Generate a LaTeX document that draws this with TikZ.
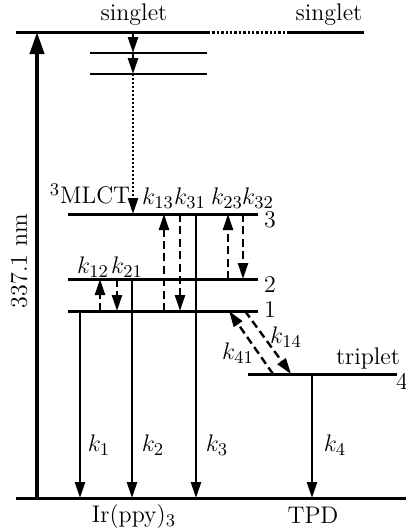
\documentclass[tikz,border=0pt]{standalone}
\usetikzlibrary{arrows.meta}
\DeclareMathSizes{12}{12}{9}{7}
\begin{document}
\begin{tikzpicture}[x=0.5pt,y=-0.5pt,
  lvl/.style={line width=1.5pt},
  sub/.style={line width=0.8pt},
  tip/.style={-{Triangle[width=5pt,length=8pt]}},
  solidarr/.style={tip,line width=1.3pt},
  dasharr/.style={tip,line width=1.2pt,dash pattern=on 4pt off 2.2pt},
  dotarr/.style={tip,line width=1.3pt,dash pattern=on 1pt off 1pt},
  lab/.style={inner sep=0pt,font=\fontsize{12}{14}\selectfont}]
\useasboundingbox (0,0) rectangle (406,532);
% coordinates
\coordinate (S0) at (16,32); \coordinate (S1) at (208,32);
\coordinate (S2) at (290,32); \coordinate (S3) at (364,32);
\coordinate (A0) at (90,53); \coordinate (A1) at (207,53);
\coordinate (B0) at (90,74); \coordinate (B1) at (207,74);
\coordinate (L30) at (68,214); \coordinate (L31) at (258,214);
\coordinate (L20) at (68,279); \coordinate (L21) at (258,279);
\coordinate (L10) at (68,311); \coordinate (L11) at (258,311);
\coordinate (T0) at (248,374); \coordinate (T1) at (397,374);
\coordinate (G0) at (16,498); \coordinate (G1) at (406,498);
% levels
\draw[lvl] (S0) -- (S1);
\draw[lvl,dash pattern=on 1.2pt off 1pt] (S1) -- (S2);
\draw[lvl] (S2) -- (S3);
\draw[sub] (A0) -- (A1);
\draw[sub] (B0) -- (B1);
\draw[lvl] (L30) -- (L31);
\draw[lvl] (L20) -- (L21);
\draw[lvl] (L10) -- (L11);
\draw[lvl] (T0) -- (T1);
\draw[lvl] (G0) -- (G1);
% labels
\node[lab] (sg1) at (134,15) {singlet};
\node[lab] (sg2) at (329,15) {singlet};
\node[lab] (mlct) at (90,194) {$^3$MLCT};
\node[lab] (n3) at (270,220) {3};
\node[lab] (n2) at (270,285) {2};
\node[lab] (n1) at (270,310) {1};
\node[lab] (n4) at (402,381) {4};
\node[lab] (trip) at (368,358) {triplet};
\node[lab,rotate=90] (nm) at (19,261) {337.1 nm};
\node[lab] (ir) at (134,517) {Ir(ppy)$_3$};
\node[lab] (tpd) at (313,515) {TPD};
\node[lab] (k13) at (158,198) {$k_{13}$};
\node[lab] (k31) at (190,198) {$k_{31}$};
\node[lab] (k23) at (227,198) {$k_{23}$};
\node[lab] (k32) at (258,198) {$k_{32}$};
\node[lab] (k12) at (93,267) {$k_{12}$};
\node[lab] (k21) at (127,267) {$k_{21}$};
\node[lab] (k14) at (286,337) {$k_{14}$};
\node[lab] (k41) at (238,353) {$k_{41}$};
\node[lab] (k1) at (99,445) {$k_1$};
\node[lab] (k2) at (153,445) {$k_2$};
\node[lab] (k3) at (217,445) {$k_3$};
\node[lab] (k4) at (335,445) {$k_4$};
% excitation
\coordinate (E0) at (37,498); \coordinate (E1) at (37,32);
\draw[-{Triangle[width=7pt,length=11pt]},line width=2pt] (E0) -- (E1);
% singlet relaxation
\coordinate (R0) at (133,32); \coordinate (R1) at (133,53);
\coordinate (R2) at (133,74); \coordinate (R3) at (133,214);
\draw[solidarr] (R0) -- (R1);
\draw[solidarr] (R1) -- (R2);
\draw[dotarr] (R2) -- (R3);
% transfers among 1,2,3
\coordinate (u13a) at (164,311); \coordinate (u13b) at (164,214);
\draw[dasharr] (u13a) -- (u13b);
\coordinate (d31a) at (180,214); \coordinate (d31b) at (180,311);
\draw[dasharr] (d31a) -- (d31b);
\coordinate (u23a) at (228,279); \coordinate (u23b) at (228,214);
\draw[dasharr] (u23a) -- (u23b);
\coordinate (d32a) at (243,214); \coordinate (d32b) at (243,279);
\draw[dasharr] (d32a) -- (d32b);
\coordinate (u12a) at (100,311); \coordinate (u12b) at (100,279);
\draw[dasharr] (u12a) -- (u12b);
\coordinate (d21a) at (117,279); \coordinate (d21b) at (117,311);
\draw[dasharr] (d21a) -- (d21b);
% 1 <-> 4
\coordinate (d14a) at (245,311); \coordinate (d14b) at (291,374);
\draw[dasharr] (d14a) -- (d14b);
\coordinate (u41a) at (273,374); \coordinate (u41b) at (229,311);
\draw[dasharr] (u41a) -- (u41b);
% decays
\coordinate (k1a) at (80,311); \coordinate (k1b) at (80,498);
\draw[solidarr] (k1a) -- (k1b);
\coordinate (k2a) at (132,279); \coordinate (k2b) at (132,498);
\draw[solidarr] (k2a) -- (k2b);
\coordinate (k3a) at (196,214); \coordinate (k3b) at (196,498);
\draw[solidarr] (k3a) -- (k3b);
\coordinate (k4a) at (312,374); \coordinate (k4b) at (312,498);
\draw[solidarr] (k4a) -- (k4b);
\end{tikzpicture}
\end{document}
